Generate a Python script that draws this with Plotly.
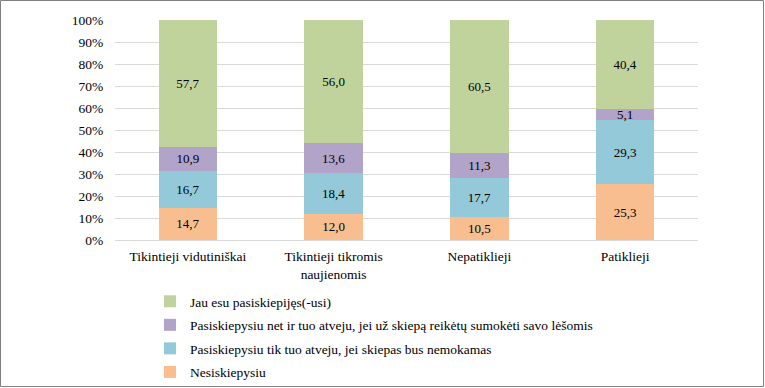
import plotly.graph_objects as go

categories = ["Tikintieji vidutiniškai", "Tikintieji tikromis<br>naujienomis", "Nepatiklieji", "Patiklieji"]
nesiskiepysiu = [14.7, 12.0, 10.5, 25.3]
nemokamas = [16.7, 18.4, 17.7, 29.3]
savo_lesomis = [10.9, 13.6, 11.3, 5.1]
jau = [57.7, 56.0, 60.5, 40.4]

series = [
    ("Nesiskiepysiu", nesiskiepysiu, "#F8BE8F"),
    ("Pasiskiepysiu tik tuo atveju, jei skiepas bus nemokamas", nemokamas, "#93C9D8"),
    ("Pasiskiepysiu net ir tuo atveju, jei už skiepą reikėtų sumokėti savo lėšomis", savo_lesomis, "#B2A3C8"),
    ("Jau esu pasiskiepijęs(-usi)", jau, "#C1D39C"),
]

FONT = "Liberation Serif"
fig = go.Figure()
for i, (name, vals, color) in enumerate(series):
    fig.add_trace(go.Bar(
        x=categories, y=vals, name=name, marker_color=color,
        marker_line_width=0, width=0.4,
        text=[f"{v:.1f}".replace(".", ",") for v in vals],
        textposition="inside", insidetextanchor="middle",
        textfont=dict(family=FONT, size=13, color="#000000"),
        legendgroup=f"g{i}", legendrank=1000 - i,
    ))

L, R, T, B = 115, 67, 20, 148
W, H = 765, 388
pw, ph = W - L - R, H - T - B

fig.update_layout(
    barmode="stack",
    width=W, height=H,
    margin=dict(l=L, r=R, t=T, b=B, autoexpand=False),
    paper_bgcolor="white", plot_bgcolor="white",
    font=dict(family=FONT, size=13.5, color="#000000"),
    uniformtext=dict(minsize=8, mode="show"),
    legend=dict(
        orientation="v",
        x=(150 - L) / pw, xanchor="left",
        y=(T + ph - 286) / ph,
        yanchor="top",
        font=dict(family=FONT, size=13.5, color="#000000"),
        tracegroupgap=3, itemwidth=30,
        bgcolor="rgba(0,0,0,0)",
    ),
    yaxis=dict(
        range=[0, 100], dtick=10, ticksuffix="%",
        showgrid=True, gridcolor="#D9D9D9", gridwidth=1,
        zeroline=False, showline=False, ticks="outside", ticklen=8, tickcolor="rgba(0,0,0,0)",
        tickfont=dict(family=FONT, size=13.5),
    ),
    xaxis=dict(
        showline=True, linecolor="#D9D9D9", ticks="outside", ticklen=4, tickcolor="rgba(0,0,0,0)",
        tickfont=dict(family=FONT, size=13.5),
    ),
    shapes=[dict(
        type="rect", xref="paper", yref="paper",
        x0=(0.5 - L) / pw, x1=(W - 1.5 - L) / pw,
        y0=(T + ph - (H - 1.5)) / ph, y1=(T + ph - 0.5) / ph,
        line=dict(color="#808080", width=1), fillcolor="rgba(0,0,0,0)",
        layer="above",
    )],
)

fig.write_html("out.html", config={"displayModeBar": False},
               post_script="document.body.style.margin='0';document.body.style.overflow='hidden';")
